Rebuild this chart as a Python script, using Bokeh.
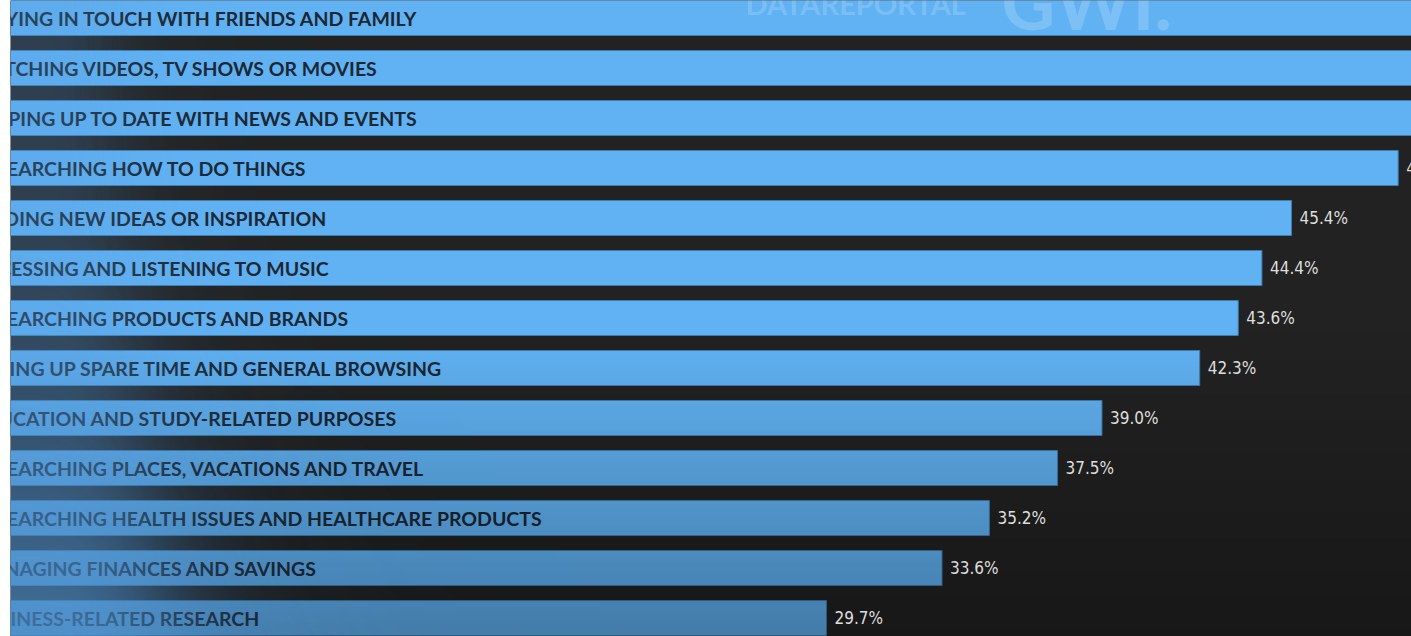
import numpy as np
from bokeh.plotting import figure
from bokeh.models import ColumnDataSource, Range1d, Label, GlobalInlineStyleSheet
from bokeh.core.properties import value
from bokeh.embed import file_html
from bokeh.resources import INLINE

# ---------------- data ----------------
categories = [
    "STAYING IN TOUCH WITH FRIENDS AND FAMILY",
    "WATCHING VIDEOS, TV SHOWS OR MOVIES",
    "KEEPING UP TO DATE WITH NEWS AND EVENTS",
    "RESEARCHING HOW TO DO THINGS",
    "FINDING NEW IDEAS OR INSPIRATION",
    "ACCESSING AND LISTENING TO MUSIC",
    "RESEARCHING PRODUCTS AND BRANDS",
    "FILLING UP SPARE TIME AND GENERAL BROWSING",
    "EDUCATION AND STUDY-RELATED PURPOSES",
    "RESEARCHING PLACES, VACATIONS AND TRAVEL",
    "RESEARCHING HEALTH ISSUES AND HEALTHCARE PRODUCTS",
    "MANAGING FINANCES AND SAVINGS",
    "BUSINESS-RELATED RESEARCH",
]
values = [56.6, 52.3, 50.7, 49.0, 45.4, 44.4, 43.6, 42.3, 39.0, 37.5, 35.2, 33.6, 29.7]

# ---------------- geometry / style ----------------
W, H = 1411, 636
LEFT = 10
PX_PER_PCT = 29.62
ZERO_PX = -53.7
x_start = (LEFT - ZERO_PX) / PX_PER_PCT
x_end = (W - ZERO_PX) / PX_PER_PCT
n = len(categories)
PITCH = 50.0
FIRST_CENTER = 17.5
y_top = (n - 1) + FIRST_CENTER / PITCH
y_bottom = (n - 1) - (H - FIRST_CENTER) / PITCH

ys = [n - 1 - i for i in range(n)]
src = ColumnDataSource(dict(
    y=ys, value=values, label=categories,
    vlabel=[f"{v:.1f}%" for v in values],
))

p = figure(
    width=W, height=H,
    x_range=Range1d(x_start, x_end), y_range=Range1d(y_bottom, y_top),
    x_axis_type=None, y_axis_type=None,
    toolbar_location=None, output_backend="svg",
    min_border_left=LEFT, min_border_right=0, min_border_top=0, min_border_bottom=0,
    background_fill_color="#222222", border_fill_color="white",
    outline_line_color=None,
)
p.grid.visible = False
p.stylesheets = [GlobalInlineStyleSheet(css="html,body{margin:0;padding:0;overflow:hidden;background:#ffffff}")]

# bars
p.hbar(y="y", left=0, right="value", height=0.7, source=src,
       fill_color="#61b2f3", line_color="#3f7db0", line_width=1)

# category labels inside bars (clipped at the left edge of the frame)
p.text(x=x_start, y="y", text="label", source=src, x_offset=-38,
       text_baseline="middle", text_align="left",
       text_font=value("Lato"), text_font_style="bold", text_font_size="19.5px",
       text_color="#1c2733")


def rgba_image(rgb, alpha):
    h, w = alpha.shape
    img = np.empty((h, w), dtype=np.uint32)
    view = img.view(dtype=np.uint8).reshape((h, w, 4))
    view[:, :, 0] = rgb[0]
    view[:, :, 1] = rgb[1]
    view[:, :, 2] = rgb[2]
    view[:, :, 3] = np.clip(alpha * 255, 0, 255).astype(np.uint8)
    return img


# vertical darkening toward the bottom
hd = 212
rows = np.arange(hd)
ypx = H - (rows + 0.5) * H / hd  # row 0 is at the bottom
a_dark = 0.30 * np.clip((ypx - 330) / 300.0, 0, 1)
dark = rgba_image((0, 0, 0), a_dark[:, None] * np.ones((hd, 4)))
p.image_rgba(image=[dark], x=x_start, y=y_bottom, dw=x_end - x_start, dh=y_top - y_bottom)

# blue glow on the left side
GW_PX = 620
gw, gh = 310, 318
cols = np.arange(gw)
xp = (cols + 0.5) * GW_PX / gw
rws = np.arange(gh)
yp = H - (rws + 0.5) * H / gh
X, Y = np.meshgrid(xp, yp)
A = 0.25 + 0.42 * np.clip((Y - 200) / 436.0, 0, 1) ** 1.3
wid = 105 + 65 * (Y / H) ** 1.5
a_glow = A / (1 + (X / wid) ** 4)
glow = rgba_image((85, 155, 220), a_glow)
p.image_rgba(image=[glow], x=x_start, y=y_bottom, dw=GW_PX / PX_PER_PCT, dh=y_top - y_bottom)

# value labels
p.text(x="value", y="y", text="vlabel", source=src, x_offset=8,
       text_baseline="middle", text_align="left",
       text_font=value("'Liberation Sans Narrow', 'DejaVu Sans Condensed', sans-serif"),
       text_font_size="17px", text_color="#dedede")


def px2x(px):
    return (px - ZERO_PX) / PX_PER_PCT


def py2y(py):
    return (n - 1) - (py - FIRST_CENTER) / PITCH


# watermark
p.add_layout(Label(x=px2x(745), y=py2y(3), text="DATAREPORTAL",
                   text_font="Lato", text_font_style="bold", text_font_size="29px",
                   text_color="white", text_alpha=0.18, text_baseline="alphabetic"))
p.add_layout(Label(x=px2x(1001), y=py2y(1), text="GWI.",
                   text_font="Lato", text_font_style="bold", text_font_size="74px",
                   text_color="white", text_alpha=0.18, text_baseline="alphabetic"))

open("out.html", "w").write(file_html(p, INLINE))
